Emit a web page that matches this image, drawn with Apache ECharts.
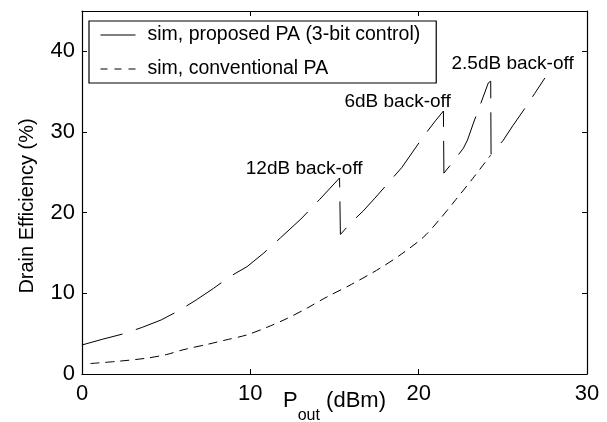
<!DOCTYPE html>
<html>
<head>
<meta charset="utf-8">
<script src="https://cdn.jsdelivr.net/npm/echarts@6/dist/echarts.min.js"></script>
<style>
html,body{margin:0;padding:0;background:#fff;}
#chart{width:607px;height:422px;}
</style>
</head>
<body>
<div id="chart"></div>
<script>
// ---- data ----
var seriesNames = ['sim, proposed PA (3-bit control)', 'sim, conventional PA'];

var proposedX = [0, 1.2, 2.5, 3.6, 4.7, 5.8, 6.8, 7.8, 8.8, 9.8, 10.8, 11.8, 13.0, 14.1, 15.3,
                 15.35, 16.0, 16.7, 17.4, 18.2, 19.0, 19.6, 20.3, 21.0, 21.47,
                 21.5, 22.0, 22.66, 22.9, 23.25, 23.7, 24.14, 24.28,
                 24.3, 24.6, 25.0, 25.6, 26.2, 26.9, 27.5];
var proposedY = [3.6, 4.3, 5.0, 5.8, 6.7, 7.9, 9.2, 10.6, 12.1, 13.3, 15.0, 16.9, 19.2, 21.6, 24.3,
                 17.3, 18.8, 20.2, 21.8, 23.7, 25.6, 27.4, 29.5, 31.4, 32.6,
                 24.9, 26.2, 28.0, 29.0, 31.1, 33.6, 36.1, 36.3,
                 27.3, 28.0, 28.9, 30.8, 32.6, 34.8, 36.7];

var conventionalX = [0.5, 2.0, 3.8, 5.0, 6.0, 7.5, 8.5, 9.8, 11.0, 12.2, 13.4, 14.5, 16.0, 17.7,
                     19.0, 20.3, 21.3, 22.2, 23.2, 24.3];
var conventionalY = [1.3, 1.55, 1.95, 2.4, 3.0, 3.7, 4.2, 4.85, 5.8, 6.9, 8.2, 9.5, 11.1, 13.1,
                     14.9, 17.0, 19.3, 21.6, 24.2, 27.2];

var xTicks = [0, 10, 20, 30];
var yTicks = [0, 10, 20, 30, 40];

var annoText = ['12dB back-off', '6dB back-off', '2.5dB back-off'];
var annoX = [13.2, 18.75, 25.58];
var annoY = [25.5, 33.8, 38.4];
// --------------------------------------

function pairs(xs, ys) { return xs.map(function (x, i) { return [x, ys[i]]; }); }

var FONT = 'Liberation Sans, Arial, Helvetica, sans-serif';
var chart = echarts.init(document.getElementById('chart'), null, {renderer: 'canvas'});

var axisCommonX = {
  type: 'value', min: xTicks[0], max: xTicks[xTicks.length - 1], interval: 10,
  axisLine: {show: true, onZero: false, lineStyle: {color: '#000', width: 1.2}},
  axisTick: {show: true, inside: true, length: 5, lineStyle: {color: '#000', width: 1}},
  splitLine: {show: false}
};
var axisCommonY = {
  type: 'value', min: yTicks[0], max: 45, interval: 10,
  axisLine: {show: true, onZero: false, lineStyle: {color: '#000', width: 1.2}},
  axisTick: {show: true, inside: true, length: 5, lineStyle: {color: '#000', width: 1}},
  splitLine: {show: false}
};

var option = {
  animation: false,
  backgroundColor: '#fff',
  grid: {left: 82, right: 20, top: 11, bottom: 48, containLabel: false, outerBoundsMode: 'none'},
  xAxis: [
    Object.assign({}, axisCommonX, {
      position: 'bottom',
      axisLabel: {show: true, color: '#000', fontSize: 22, fontFamily: FONT, margin: 9},
      name: '{p|P}{s|out}{r| (dBm)}',
      nameLocation: 'middle',
      nameGap: 16,
      nameMoveOverlap: false,
      nameTextStyle: {
        color: '#000', fontFamily: FONT, verticalAlign: 'top',
        rich: {
          p: {fontSize: 22, lineHeight: 22, verticalAlign: 'top', fontFamily: FONT, color: '#000'},
          s: {fontSize: 16, lineHeight: 16, padding: [18, 0, 0, 0], verticalAlign: 'top', fontFamily: FONT, color: '#000'},
          r: {fontSize: 22, lineHeight: 22, verticalAlign: 'top', fontFamily: FONT, color: '#000'}
        }
      }
    }),
    Object.assign({}, axisCommonX, {position: 'top', axisLabel: {show: false}})
  ],
  yAxis: [
    Object.assign({}, axisCommonY, {
      position: 'left',
      axisLabel: {show: true, color: '#000', fontSize: 22, fontFamily: FONT, margin: 7, showMaxLabel: false}
    }),
    Object.assign({}, axisCommonY, {position: 'right', axisLabel: {show: false}})
  ],
  legend: {
    show: true,
    left: 89, top: 21, orient: 'vertical',
    backgroundColor: '#fff',
    borderColor: '#000', borderWidth: 1.2, borderRadius: 0,
    padding: [4, 16, 4, 11],
    itemGap: 14, itemWidth: 35, itemHeight: 14,
    textStyle: {color: '#000', fontSize: 19.5, lineHeight: 19, fontFamily: FONT, padding: [0, 0, 0, 7]},
    data: [
      {name: seriesNames[0], itemStyle: {opacity: 0}, lineStyle: {type: 'solid', width: 1, color: '#000'}},
      {name: seriesNames[1], itemStyle: {opacity: 0}, lineStyle: {type: [7, 7], width: 1, color: '#000'}}
    ]
  },
  series: [
    {
      name: seriesNames[0], type: 'line', xAxisIndex: 0, yAxisIndex: 0,
      data: pairs(proposedX, proposedY),
      showSymbol: false, symbol: 'none', smooth: false,
      lineStyle: {color: '#000', width: 1, type: [42, 14]},
      itemStyle: {color: '#000'}
    },
    {
      name: seriesNames[1], type: 'line', xAxisIndex: 0, yAxisIndex: 0,
      data: pairs(conventionalX, conventionalY),
      showSymbol: false, symbol: 'none', smooth: 0.3,
      lineStyle: {color: '#000', width: 1, type: [9, 6]},
      itemStyle: {color: '#000'}
    }
  ]
};
chart.setOption(option);

// annotation texts positioned through the chart's own scales
var g = annoText.map(function (t, i) {
  var p = chart.convertToPixel({xAxisIndex: 0, yAxisIndex: 0}, [annoX[i], annoY[i]]);
  return {
    type: 'text', x: p[0], y: p[1], z: 100,
    style: {text: t, fill: '#000', font: '19px ' + FONT, textAlign: 'center', textVerticalAlign: 'middle'}
  };
});
g.push({
  type: 'text', x: 27, y: 206, rotation: Math.PI / 2, z: 100,
  style: {text: 'Drain Efficiency (%)', fill: '#000', font: '20px ' + FONT, textAlign: 'center', textVerticalAlign: 'middle'}
});
chart.setOption({graphic: g});
</script>
</body>
</html>
